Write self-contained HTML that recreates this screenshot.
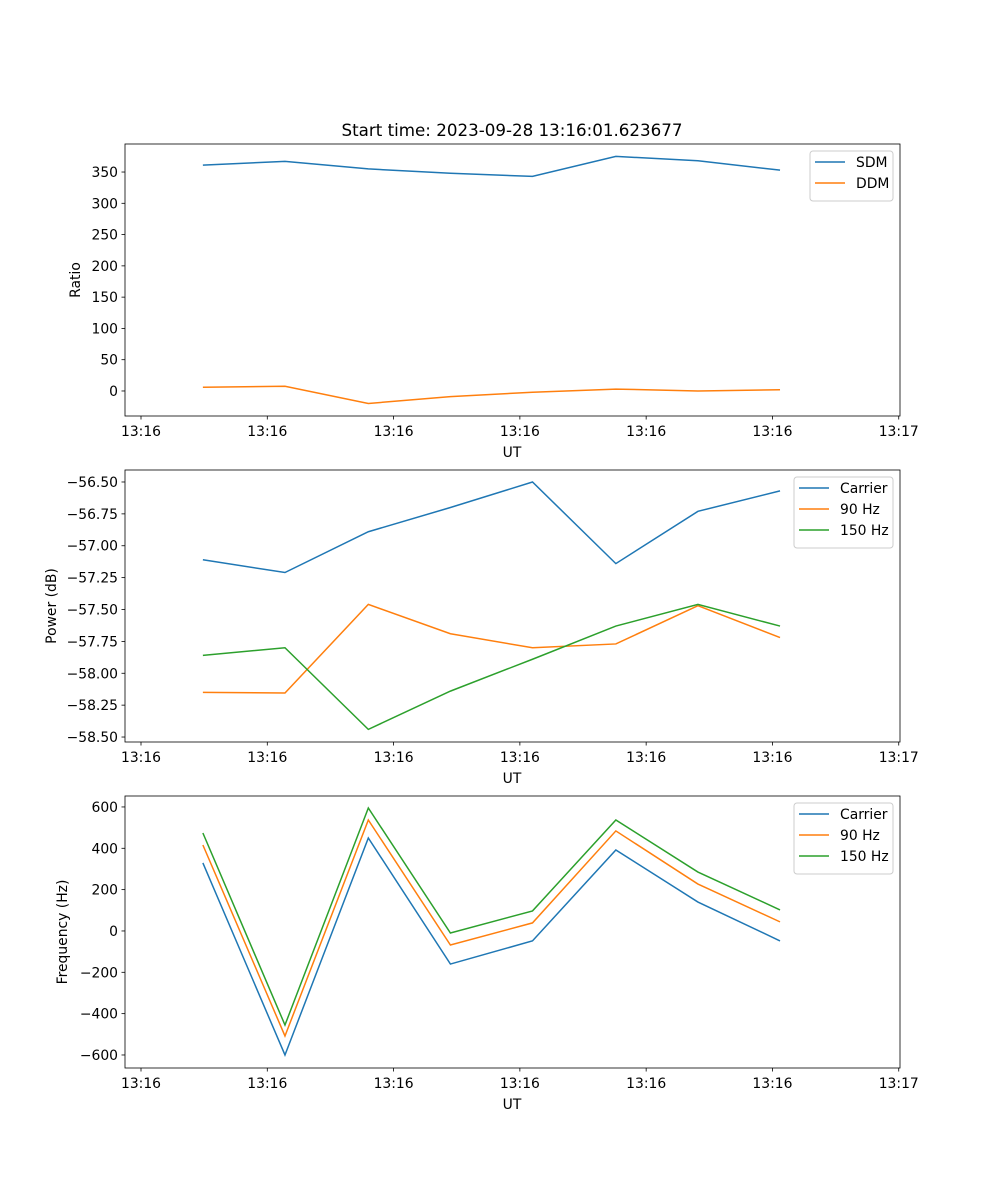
<!DOCTYPE html>
<html><head><meta charset="utf-8"><style>
body{margin:0;background:#fff}
svg{display:block;font-family:"DejaVu Sans","Liberation Sans",sans-serif}
</style></head><body>
<svg id="fig" width="1000" height="1200" xmlns="http://www.w3.org/2000/svg">
<rect width="1000" height="1200" fill="#fff"/>
<text x="512" y="136" font-size="16.7" text-anchor="middle">Start time: 2023-09-28 13:16:01.623677</text>
</svg>
<script>
const times = [4.9, 11.4, 18.0, 24.5, 31.0, 37.6, 44.1, 50.6];
const xTickValues = [0, 10, 20, 30, 40, 50, 60];
const xTickLabels = ["13:16","13:16","13:16","13:16","13:16","13:16","13:17"];
const sdm = [361, 367, 355, 348, 343, 375, 368, 353];
const ddm = [6, 7.5, -20, -9, -2, 3, 0, 2];
const powCarrier = [-57.11, -57.21, -56.89, -56.70, -56.50, -57.14, -56.73, -56.57];
const pow90 = [-58.15, -58.155, -57.46, -57.69, -57.80, -57.77, -57.47, -57.72];
const pow150 = [-57.86, -57.80, -58.44, -58.14, -57.89, -57.63, -57.46, -57.63];
const freqCarrier = [329, -600, 450, -160, -48, 392, 140, -48];
const freq90 = [416, -508, 537, -68, 39, 484, 227, 44];
const freq150 = [474, -455, 595, -10, 97, 537, 285, 102];
const ticks1 = [0,50,100,150,200,250,300,350];
const ticks2 = [-58.5,-58.25,-58,-57.75,-57.5,-57.25,-57,-56.75,-56.5];
const ticks3 = [-600,-400,-200,0,200,400,600];

const NS="http://www.w3.org/2000/svg";
const svg=document.getElementById('fig');
const C={blue:'#1f77b4',orange:'#ff7f0e',green:'#2ca02c'};
const FS=13.9;
function mk(tag,attrs,parent){const e=document.createElementNS(NS,tag);for(const k in attrs)e.setAttribute(k,attrs[k]);(parent||svg).appendChild(e);return e;}
const L=125,R=900,xmin=-1.267,xmax=60.1;
function xs(v){return L+(v-xmin)/(xmax-xmin)*(R-L);}
function fmt(v,d){const s=Math.abs(v).toFixed(d);return (v<0?'\u2212':'')+s;}

function panel(id,top,ymin,ymax,yticks,dec,ylabel,ylabX,series,legend){
  const bot=top+272;
  const ys=v=>bot-(v-ymin)/(ymax-ymin)*272;
  const g=mk('g',{});
  
  
  series.forEach(s=>{
    const p=mk('polyline',{points:times.map((t,i)=>xs(t)+','+ys(s.vals[i])).join(' '),fill:'none',stroke:s.color,'stroke-width':1.5},g);
    
    
  });
  const fr=mk('rect',{x:L,y:top,width:R-L,height:272,fill:'none',stroke:'#000','stroke-width':0.8},g);
  
  
  xTickValues.forEach((v,i)=>{
    const x=xs(v);
    mk('line',{x1:x,x2:x,y1:bot,y2:bot+3.5,stroke:'#000','stroke-width':0.8},g);
    const t=mk('text',{x:x,y:bot+20,'font-size':FS,'text-anchor':'middle'},g);
    t.textContent=xTickLabels[i];
    
    
  });
  yticks.forEach(v=>{
    const y=ys(v);
    mk('line',{x1:L-3.5,x2:L,y1:y,y2:y,stroke:'#000','stroke-width':0.8},g);
    const t=mk('text',{x:L-7,y:y+5,'font-size':FS,'text-anchor':'end'},g);
    t.textContent=fmt(v,dec);
    
    
  });
  const xl=mk('text',{x:512,y:bot+41,'font-size':FS,'text-anchor':'middle'},g);
  xl.textContent='UT';
  
  
  const cy=top+136;
  const yl=mk('text',{x:ylabX,y:cy,'font-size':FS,'text-anchor':'middle',transform:`rotate(-90 ${ylabX} ${cy})`},g);
  yl.textContent=ylabel;
  
  
  const lg=mk('g',{},g);
  
  
  mk('rect',{x:legend.x,y:top+7,width:legend.w,height:8+21*series.length,rx:3,fill:'#fff','fill-opacity':0.8,stroke:'#ccc'},lg);
  series.forEach((s,i)=>{
    const yy=top+18+21*i;
    mk('line',{x1:legend.x+5,x2:legend.x+35,y1:yy,y2:yy,stroke:s.color,'stroke-width':1.5},lg);
    const t=mk('text',{x:legend.x+46,y:yy+5,'font-size':FS},lg);
    t.textContent=s.name;
    
    
  });
}
panel('ratio',144,-40,394.8,ticks1,0,'Ratio',80,
  [{key:'sdm',name:'SDM',color:C.blue,vals:sdm},{key:'ddm',name:'DDM',color:C.orange,vals:ddm}],{x:810,w:83});
panel('power',470,-58.539,-56.406,ticks2,2,'Power (dB)',56,
  [{key:'carrier',name:'Carrier',color:C.blue,vals:powCarrier},{key:'90hz',name:'90 Hz',color:C.orange,vals:pow90},{key:'150hz',name:'150 Hz',color:C.green,vals:pow150}],{x:794,w:99});
panel('frequency',796,-663,653,ticks3,0,'Frequency (Hz)',67,
  [{key:'carrier',name:'Carrier',color:C.blue,vals:freqCarrier},{key:'90hz',name:'90 Hz',color:C.orange,vals:freq90},{key:'150hz',name:'150 Hz',color:C.green,vals:freq150}],{x:794,w:99});
</script>
</body></html>
